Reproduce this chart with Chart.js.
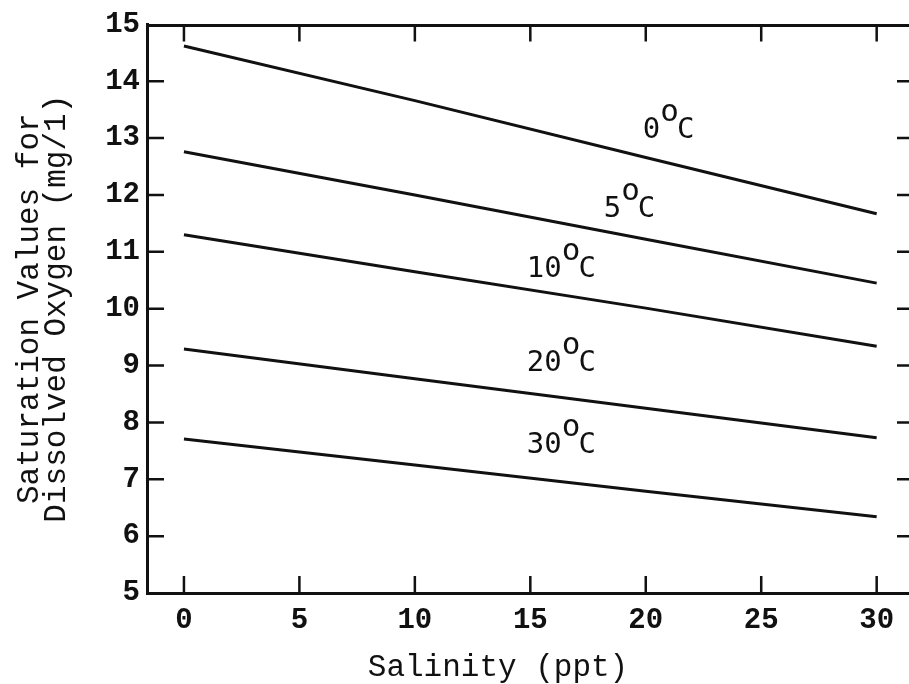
<!doctype html>
<html lang="en">

<head>
  <meta charset="utf-8">
  <title>Saturation Values for Dissolved Oxygen</title>
  <script src="https://cdn.jsdelivr.net/npm/chart.js"></script>
  <style>
    body { margin: 0; background: #fff; }
  </style>
</head>

<body>
  <canvas id="chart" width="909" height="684"></canvas>

<script>
  const salinity = [0, 10, 20, 30]
  // saturation DO (mg/l) for each temperature
  const do0 = [14.62, 13.66, 12.66, 11.67]
  const do5 = [12.76, 12.0, 11.22, 10.45]
  const do10 = [11.30, 10.65, 10.01, 9.34]
  const do20 = [9.29, 8.77, 8.25, 7.73]
  const do30 = [7.71, 7.25, 6.79, 6.34]

  const temps = ['0', '5', '10', '20', '30']
  // curve label anchors (left edge in ppt, baseline in mg/l)
  const labelX = [19.87, 18.18, 14.85, 14.85, 14.85]
  const labelY = [13.0, 11.61, 10.56, 8.91, 7.47]

  const xTicks = [0, 5, 10, 15, 20, 25, 30]
  const xTitle = 'Salinity (ppt)'
  const yTitle = ['Saturation Values for', 'Dissolved Oxygen (mg/1)']

  const series = [do0, do5, do10, do20, do30]

  const ink = '#111'
  const mono = "'Liberation Mono', 'DejaVu Sans Mono', monospace"
  const lblFont = "'DejaVu Sans Mono', monospace"

  const extras = {
    id: 'extras',
    afterDraw(chart) {
      const ctx = chart.ctx
      const x = chart.scales.x
      const y = chart.scales.y
      const a = chart.chartArea
      ctx.save()
      ctx.strokeStyle = ink
      ctx.lineCap = 'butt'

      // top border
      ctx.lineWidth = 3
      ctx.beginPath()
      ctx.moveTo(a.left, a.top + 1)
      ctx.lineTo(a.right, a.top + 1)
      ctx.stroke()

      // inward ticks
      ctx.lineWidth = 2.5
      x.ticks.forEach(t => {
        const px = x.getPixelForValue(t.value)
        ctx.beginPath()
        ctx.moveTo(px, a.bottom)
        ctx.lineTo(px, a.bottom - 17)
        ctx.moveTo(px, a.top)
        ctx.lineTo(px, a.top + 17)
        ctx.stroke()
      })
      y.ticks.forEach(t => {
        if (t.value <= y.min || t.value >= y.max) return
        const py = y.getPixelForValue(t.value)
        ctx.beginPath()
        ctx.moveTo(a.left, py)
        ctx.lineTo(a.left + 17, py)
        ctx.moveTo(a.right - 12, py)
        ctx.lineTo(a.right, py)
        ctx.stroke()
      })

      // curve labels like 10°C (degree drawn as raised letter o)
      ctx.fillStyle = ink
      ctx.textBaseline = 'alphabetic'
      ctx.textAlign = 'left'
      temps.forEach((t, i) => {
        let px = x.getPixelForValue(labelX[i])
        const py = y.getPixelForValue(labelY[i])
        ctx.font = `29px ${lblFont}`
        ctx.fillText(t, px, py)
        px += ctx.measureText(t).width
        ctx.font = `31px ${lblFont}`
        ctx.fillText('o', px, py - 17)
        px += ctx.measureText('o').width
        ctx.font = `29px ${lblFont}`
        ctx.fillText('C', px - 2, py)
      })

      // axis titles
      ctx.font = `31px ${mono}`
      ctx.textAlign = 'center'
      ctx.fillText(xTitle, 498, 676)
      ctx.save()
      ctx.translate(0, (a.top + a.bottom) / 2)
      ctx.rotate(-Math.PI / 2)
      ctx.textBaseline = 'middle'
      ctx.fillText(yTitle[0], 0, 30)
      ctx.fillText(yTitle[1], 0, 57)
      ctx.restore()

      ctx.restore()
    }
  }

  new Chart(document.getElementById('chart'), {
    type: 'line',
    data: {
      datasets: series.map((s, i) => ({
        label: temps[i] + '°C',
        data: s.map((v, j) => ({ x: salinity[j], y: v })),
        borderColor: ink,
        borderWidth: 3,
        pointRadius: 0,
        tension: 0,
        fill: false
      }))
    },
    options: {
      responsive: false,
      animation: false,
      layout: { padding: { top: 17, left: 0, right: 0, bottom: 0 } },
      plugins: {
        legend: { display: false },
        tooltip: { enabled: false }
      },
      scales: {
        x: {
          type: 'linear',
          min: -1.6,
          max: 31.4,
          afterBuildTicks: scale => {
            scale.ticks = xTicks.map(v => ({ value: v }))
          },
          afterFit: scale => { scale.height = 91 },
          grid: { display: false, drawTicks: false },
          border: { display: true, color: ink, width: 3 },
          ticks: {
            color: ink,
            padding: 10,
            maxRotation: 0,
            font: { family: mono, size: 29, weight: 'bold' }
          }
        },
        y: {
          min: 5,
          max: 15,
          afterFit: scale => { scale.width = 147 },
          grid: { display: false, drawTicks: false },
          border: { display: true, color: ink, width: 3 },
          ticks: {
            stepSize: 1,
            color: ink,
            padding: 7,
            font: { family: mono, size: 29, weight: 'bold' }
          }
        }
      }
    },
    plugins: [extras]
  })
</script>
</body>

</html>
